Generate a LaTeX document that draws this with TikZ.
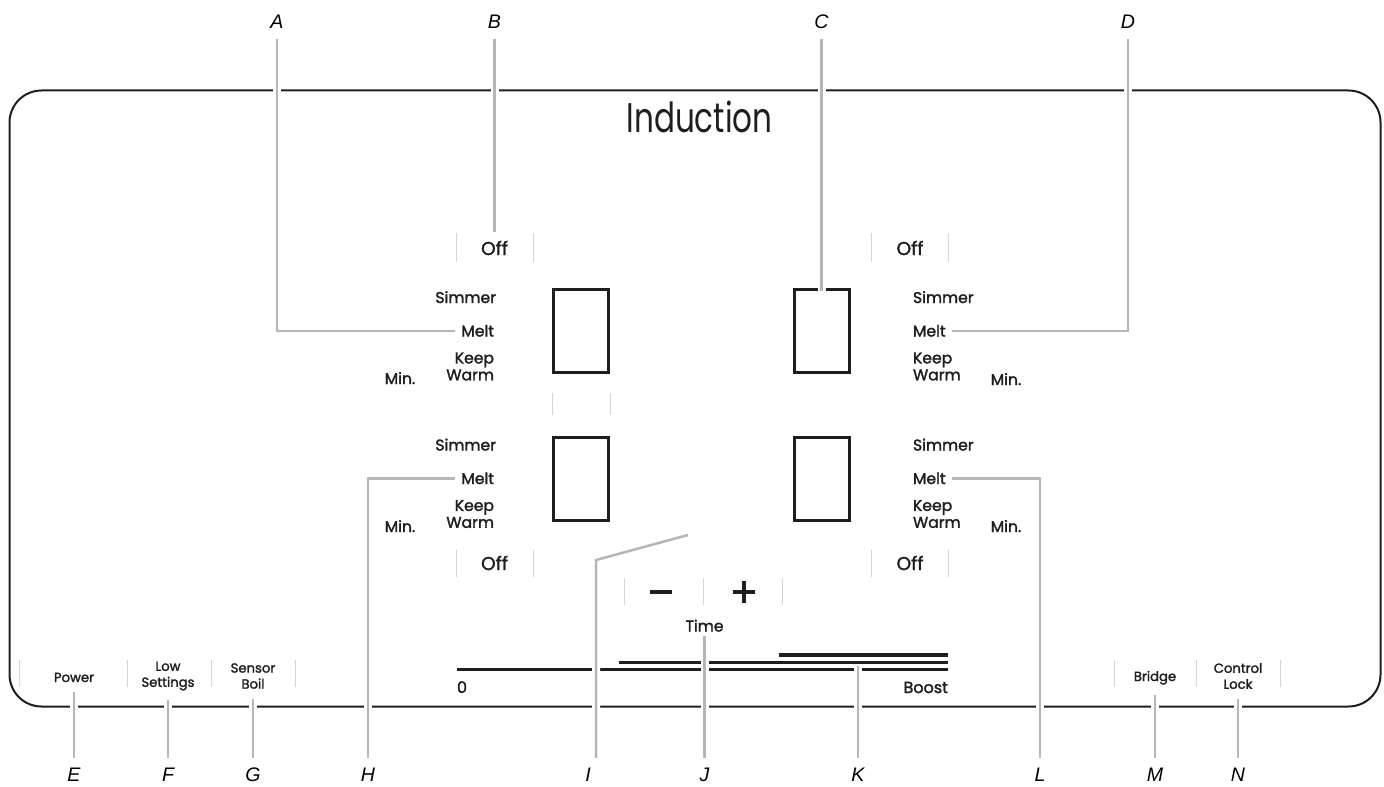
\documentclass[tikz,border=0pt]{standalone}
\usepackage{fontspec}
\setmainfont{Poppins}
\newfontfamily\keyfont[FakeBold=1.8]{Poppins}
\newfontfamily\titlefont[FakeStretch=0.75]{Poppins}
\newfontfamily\letterfont{Liberation Sans}
\definecolor{ink}{HTML}{1E1E1E}
\definecolor{leadgray}{HTML}{B6B6B8}
\definecolor{sepgray}{HTML}{D4D4D4}

\begin{document}
\begin{tikzpicture}[x=0.5pt, y=-0.5pt,
    lbl/.style={font=\keyfont\fontsize{7.8}{7}\selectfont, inner sep=0pt, outer xsep=3pt, text=ink},
    btn/.style={font=\keyfont\fontsize{6.6}{8}\selectfont, align=center, inner sep=0pt, outer ysep=5pt, text=ink},
    offkey/.style={font=\keyfont\fontsize{9.3}{10}\selectfont, inner sep=4pt, text=ink},
    letter/.style={font=\letterfont\itshape\fontsize{9.8}{10}\selectfont, inner sep=5pt},
    box/.style={draw=ink, line width=1.5pt, minimum width=27.5pt, minimum height=41.5pt, inner sep=0pt},
    sep/.style={draw=sepgray, line width=0.5pt},
    bar/.style={draw=ink, line width=1.25pt},
    leader/.style={draw=leadgray, line width=1.25pt, preaction={draw=white, line width=4pt}}]
    \useasboundingbox (0,0) rectangle (1384,786);

    % 1. panel and title
    \draw[ink, line width=1pt, rounded corners=16pt] (9.5,90.5) rectangle (1380.5,706.5);
    \node[font=\titlefont\fontsize{20.7}{22}\selectfont, anchor=base, text=ink] (title) at (699.5,133) {Induction};

    % 2. thin key separators
    \foreach \x in {456,533,871,948} {
        \draw[sep] (\x,233) -- (\x,262);
        \draw[sep] (\x,550) -- (\x,577);
    }
    \foreach \x in {552,610} \draw[sep] (\x,393) -- (\x,415);
    \foreach \x in {624,703,782} \draw[sep] (\x,578) -- (\x,605);
    \foreach \x in {19,127,211,295,1114,1196,1280} \draw[sep] (\x,660) -- (\x,687);

    % 3. burner keys
    \node[offkey, anchor=base] (offTL) at (494.5,255) {Off};
    \node[offkey, anchor=base] (offTR) at (910,255) {Off};
    \node[offkey, anchor=base] (offBL) at (494.5,570) {Off};
    \node[offkey, anchor=base] (offBR) at (910,570) {Off};

    \node[box] (boxTL) at (581,331) {};
    \node[box] (boxTR) at (821.5,331) {};
    \node[box] (boxBL) at (581,478.5) {};
    \node[box] (boxBR) at (821.5,478.5) {};

    % left column
    \node[lbl, anchor=base east] (simTL) at (502,303) {Simmer};
    \node[lbl, anchor=base east] (meltTL) at (500,336.5) {Melt};
    \node[lbl, anchor=east, align=right] (keepTL) at (500,366.5) {Keep\\Warm};
    \node[lbl, anchor=base] (minTL) at (400,384) {Min.};
    \node[lbl, anchor=base east] (simBL) at (502,450.5) {Simmer};
    \node[lbl, anchor=base east] (meltBL) at (500,484) {Melt};
    \node[lbl, anchor=east, align=right] (keepBL) at (500,514) {Keep\\Warm};
    \node[lbl, anchor=base] (minBL) at (400,532) {Min.};
    % right column
    \node[lbl, anchor=base west] (simTR) at (907,303) {Simmer};
    \node[lbl, anchor=base west] (meltTR) at (907,336.5) {Melt};
    \node[lbl, anchor=west, align=left] (keepTR) at (907,366.5) {Keep\\Warm};
    \node[lbl, anchor=base] (minTR) at (1006,385) {Min.};
    \node[lbl, anchor=base west] (simBR) at (907,450.5) {Simmer};
    \node[lbl, anchor=base west] (meltBR) at (907,484) {Melt};
    \node[lbl, anchor=west, align=left] (keepBR) at (907,514) {Keep\\Warm};
    \node[lbl, anchor=base] (minBR) at (1006,532) {Min.};

    % 4. timer and power slider
    \draw[ink, line width=2pt] (650,592) -- (672,592);
    \draw[ink, line width=1.6pt] (733,592) -- (755,592) (744,581) -- (744,603);
    \node[lbl, anchor=base, outer ysep=2pt] (time) at (704.5,631.5) {Time};

    \draw[bar] (457,669.5) -- (948,669.5);
    \draw[bar] (619,662.5) -- (948,662.5);
    \draw[bar, line width=2pt] (779,654.5) -- (948,654.5);
    \node[lbl, font=\keyfont\fontsize{8}{8}\selectfont, anchor=base west, outer xsep=0pt] (zero) at (457,693) {0};
    \node[lbl, font=\keyfont\fontsize{8}{8}\selectfont, anchor=base east, outer xsep=0pt] (boost) at (948,693) {Boost};
    \coordinate (kend) at (858,665.5);

    % 5. bottom keys
    \node[btn, anchor=base] (power) at (74,682) {Power};
    \node[btn] (lowset) at (168,676) {Low\\Settings};
    \node[btn] (sensor) at (253,676) {Sensor\\Boil};
    \node[btn, anchor=base] (bridge) at (1155,681) {Bridge};
    \node[btn] (ctrl) at (1238,676) {Control\\Lock};

    % 6. callout letters
    \node[letter] (A) at (277,22) {A};
    \node[letter] (B) at (494.5,22) {B};
    \node[letter] (C) at (821.5,22) {C};
    \node[letter] (D) at (1128,22) {D};
    \node[letter] (E) at (74,775) {E};
    \node[letter] (F) at (168,775) {F};
    \node[letter] (G) at (253,775) {G};
    \node[letter] (H) at (368,775) {H};
    \node[letter] (I) at (588,775) {I};
    \node[letter] (J) at (704.5,775) {J};
    \node[letter] (K) at (858,775) {K};
    \node[letter] (L) at (1040,775) {L};
    \node[letter] (M) at (1155,775) {M};
    \node[letter] (N) at (1238,775) {N};
    \coordinate (itip) at (688,535);
    \coordinate (ibend) at (596,560);

    % 7. leaders (white halo cuts the lines they cross)
    \draw[leader] (A) |- (meltTL);
    \draw[leader] (B) -- (offTL);
    \draw[leader] (C) -- ([yshift=-1.5pt]boxTR.north);
    \draw[leader] (D) |- (meltTR);
    \draw[leader] (E) -- (power);
    \draw[leader] (F) -- (lowset);
    \draw[leader] (G) -- (sensor);
    \draw[leader] (H) |- (meltBL);
    \draw[leader] (itip) -- (ibend) -- (ibend |- I.north);
    \draw[leader] (J) -- (time);
    \draw[leader] (K) -- (kend);
    \draw[leader] (L) |- (meltBR);
    \draw[leader] (M) -- (bridge);
    \draw[leader] (N) -- (ctrl);
\end{tikzpicture}
\end{document}
